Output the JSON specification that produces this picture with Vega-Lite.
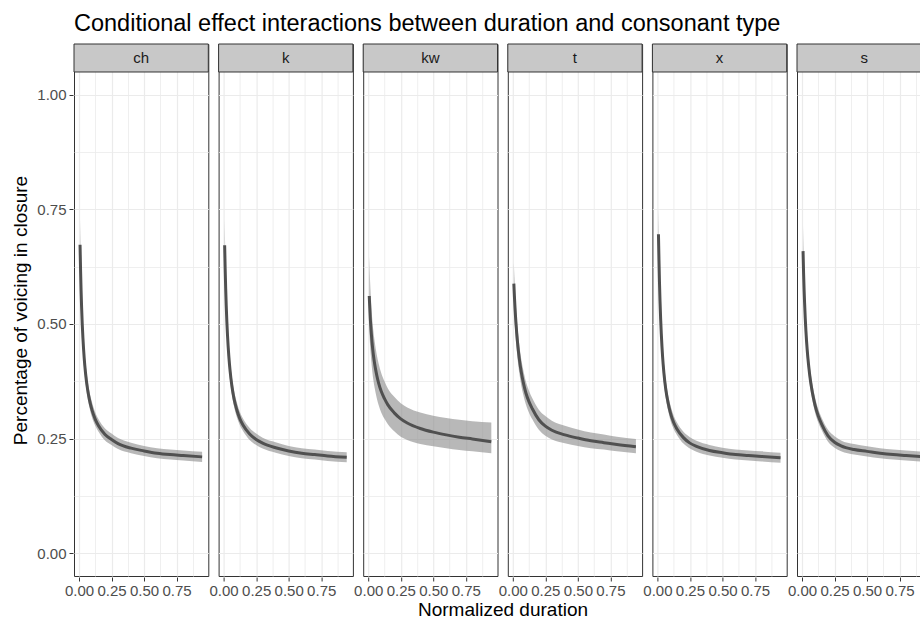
{
  "$schema": "https://vega.github.io/schema/vega-lite/v6.json",
  "padding": {"left": 11, "top": 11, "right": 0, "bottom": 0},
  "title": {"text": "Conditional effect interactions between duration and consonant type", "anchor": "start", "frame": "group", "fontSize": 23.5, "fontWeight": "normal", "color": "#000000", "offset": 8},
  "data": {"values": [
    {"consonant":"ch","duration":0.008,"estimate":0.673,"lower":0.623,"upper":0.728},
    {"consonant":"ch","duration":0.012,"estimate":0.617,"lower":0.573,"upper":0.665},
    {"consonant":"ch","duration":0.016,"estimate":0.572,"lower":0.533,"upper":0.614},
    {"consonant":"ch","duration":0.02,"estimate":0.536,"lower":0.501,"upper":0.573},
    {"consonant":"ch","duration":0.025,"estimate":0.499,"lower":0.468,"upper":0.532},
    {"consonant":"ch","duration":0.03,"estimate":0.470,"lower":0.442,"upper":0.500},
    {"consonant":"ch","duration":0.04,"estimate":0.425,"lower":0.401,"upper":0.451},
    {"consonant":"ch","duration":0.05,"estimate":0.393,"lower":0.372,"upper":0.416},
    {"consonant":"ch","duration":0.065,"estimate":0.359,"lower":0.340,"upper":0.379},
    {"consonant":"ch","duration":0.08,"estimate":0.335,"lower":0.318,"upper":0.353},
    {"consonant":"ch","duration":0.1,"estimate":0.312,"lower":0.296,"upper":0.329},
    {"consonant":"ch","duration":0.125,"estimate":0.292,"lower":0.278,"upper":0.307},
    {"consonant":"ch","duration":0.15,"estimate":0.278,"lower":0.265,"upper":0.292},
    {"consonant":"ch","duration":0.2,"estimate":0.259,"lower":0.246,"upper":0.272},
    {"consonant":"ch","duration":0.25,"estimate":0.248,"lower":0.236,"upper":0.261},
    {"consonant":"ch","duration":0.3,"estimate":0.239,"lower":0.227,"upper":0.251},
    {"consonant":"ch","duration":0.4,"estimate":0.229,"lower":0.218,"upper":0.241},
    {"consonant":"ch","duration":0.5,"estimate":0.223,"lower":0.212,"upper":0.234},
    {"consonant":"ch","duration":0.6,"estimate":0.218,"lower":0.207,"upper":0.229},
    {"consonant":"ch","duration":0.7,"estimate":0.215,"lower":0.204,"upper":0.226},
    {"consonant":"ch","duration":0.8,"estimate":0.213,"lower":0.202,"upper":0.224},
    {"consonant":"ch","duration":0.946,"estimate":0.210,"lower":0.199,"upper":0.221},

    {"consonant":"k","duration":0.008,"estimate":0.672,"lower":0.622,"upper":0.727},
    {"consonant":"k","duration":0.012,"estimate":0.620,"lower":0.576,"upper":0.668},
    {"consonant":"k","duration":0.016,"estimate":0.577,"lower":0.538,"upper":0.619},
    {"consonant":"k","duration":0.02,"estimate":0.541,"lower":0.506,"upper":0.578},
    {"consonant":"k","duration":0.025,"estimate":0.505,"lower":0.474,"upper":0.538},
    {"consonant":"k","duration":0.03,"estimate":0.475,"lower":0.447,"upper":0.505},
    {"consonant":"k","duration":0.04,"estimate":0.430,"lower":0.406,"upper":0.456},
    {"consonant":"k","duration":0.05,"estimate":0.397,"lower":0.376,"upper":0.420},
    {"consonant":"k","duration":0.065,"estimate":0.362,"lower":0.343,"upper":0.382},
    {"consonant":"k","duration":0.08,"estimate":0.337,"lower":0.320,"upper":0.355},
    {"consonant":"k","duration":0.1,"estimate":0.314,"lower":0.298,"upper":0.331},
    {"consonant":"k","duration":0.125,"estimate":0.293,"lower":0.279,"upper":0.308},
    {"consonant":"k","duration":0.15,"estimate":0.279,"lower":0.266,"upper":0.293},
    {"consonant":"k","duration":0.2,"estimate":0.260,"lower":0.247,"upper":0.273},
    {"consonant":"k","duration":0.25,"estimate":0.248,"lower":0.236,"upper":0.261},
    {"consonant":"k","duration":0.3,"estimate":0.240,"lower":0.228,"upper":0.252},
    {"consonant":"k","duration":0.4,"estimate":0.230,"lower":0.219,"upper":0.242},
    {"consonant":"k","duration":0.5,"estimate":0.223,"lower":0.212,"upper":0.234},
    {"consonant":"k","duration":0.6,"estimate":0.218,"lower":0.207,"upper":0.229},
    {"consonant":"k","duration":0.7,"estimate":0.215,"lower":0.204,"upper":0.226},
    {"consonant":"k","duration":0.8,"estimate":0.212,"lower":0.201,"upper":0.223},
    {"consonant":"k","duration":0.946,"estimate":0.209,"lower":0.198,"upper":0.220},

    {"consonant":"kw","duration":0.008,"estimate":0.561,"lower":0.486,"upper":0.648},
    {"consonant":"kw","duration":0.012,"estimate":0.535,"lower":0.465,"upper":0.613},
    {"consonant":"kw","duration":0.016,"estimate":0.512,"lower":0.446,"upper":0.583},
    {"consonant":"kw","duration":0.02,"estimate":0.495,"lower":0.432,"upper":0.561},
    {"consonant":"kw","duration":0.025,"estimate":0.475,"lower":0.415,"upper":0.536},
    {"consonant":"kw","duration":0.03,"estimate":0.458,"lower":0.400,"upper":0.515},
    {"consonant":"kw","duration":0.04,"estimate":0.432,"lower":0.377,"upper":0.484},
    {"consonant":"kw","duration":0.05,"estimate":0.412,"lower":0.360,"upper":0.461},
    {"consonant":"kw","duration":0.065,"estimate":0.389,"lower":0.339,"upper":0.434},
    {"consonant":"kw","duration":0.08,"estimate":0.371,"lower":0.323,"upper":0.414},
    {"consonant":"kw","duration":0.1,"estimate":0.353,"lower":0.307,"upper":0.393},
    {"consonant":"kw","duration":0.125,"estimate":0.337,"lower":0.293,"upper":0.375},
    {"consonant":"kw","duration":0.15,"estimate":0.324,"lower":0.282,"upper":0.360},
    {"consonant":"kw","duration":0.2,"estimate":0.306,"lower":0.266,"upper":0.341},
    {"consonant":"kw","duration":0.25,"estimate":0.293,"lower":0.254,"upper":0.327},
    {"consonant":"kw","duration":0.3,"estimate":0.284,"lower":0.247,"upper":0.318},
    {"consonant":"kw","duration":0.4,"estimate":0.272,"lower":0.238,"upper":0.307},
    {"consonant":"kw","duration":0.5,"estimate":0.264,"lower":0.233,"upper":0.300},
    {"consonant":"kw","duration":0.6,"estimate":0.258,"lower":0.229,"upper":0.295},
    {"consonant":"kw","duration":0.7,"estimate":0.253,"lower":0.225,"upper":0.291},
    {"consonant":"kw","duration":0.8,"estimate":0.249,"lower":0.222,"upper":0.288},
    {"consonant":"kw","duration":0.946,"estimate":0.243,"lower":0.218,"upper":0.285},

    {"consonant":"t","duration":0.008,"estimate":0.588,"lower":0.533,"upper":0.633},
    {"consonant":"t","duration":0.012,"estimate":0.562,"lower":0.512,"upper":0.604},
    {"consonant":"t","duration":0.016,"estimate":0.540,"lower":0.494,"upper":0.580},
    {"consonant":"t","duration":0.02,"estimate":0.520,"lower":0.477,"upper":0.558},
    {"consonant":"t","duration":0.025,"estimate":0.499,"lower":0.459,"upper":0.535},
    {"consonant":"t","duration":0.03,"estimate":0.480,"lower":0.443,"upper":0.514},
    {"consonant":"t","duration":0.04,"estimate":0.449,"lower":0.415,"upper":0.481},
    {"consonant":"t","duration":0.05,"estimate":0.424,"lower":0.393,"upper":0.454},
    {"consonant":"t","duration":0.065,"estimate":0.395,"lower":0.366,"upper":0.423},
    {"consonant":"t","duration":0.08,"estimate":0.373,"lower":0.346,"upper":0.400},
    {"consonant":"t","duration":0.1,"estimate":0.350,"lower":0.325,"upper":0.375},
    {"consonant":"t","duration":0.125,"estimate":0.330,"lower":0.306,"upper":0.354},
    {"consonant":"t","duration":0.15,"estimate":0.315,"lower":0.292,"upper":0.338},
    {"consonant":"t","duration":0.2,"estimate":0.291,"lower":0.269,"upper":0.313},
    {"consonant":"t","duration":0.25,"estimate":0.277,"lower":0.256,"upper":0.299},
    {"consonant":"t","duration":0.3,"estimate":0.268,"lower":0.248,"upper":0.289},
    {"consonant":"t","duration":0.4,"estimate":0.258,"lower":0.240,"upper":0.278},
    {"consonant":"t","duration":0.5,"estimate":0.251,"lower":0.234,"upper":0.270},
    {"consonant":"t","duration":0.6,"estimate":0.245,"lower":0.229,"upper":0.263},
    {"consonant":"t","duration":0.7,"estimate":0.241,"lower":0.226,"upper":0.259},
    {"consonant":"t","duration":0.8,"estimate":0.237,"lower":0.222,"upper":0.254},
    {"consonant":"t","duration":0.946,"estimate":0.232,"lower":0.218,"upper":0.249},

    {"consonant":"x","duration":0.008,"estimate":0.696,"lower":0.646,"upper":0.751},
    {"consonant":"x","duration":0.012,"estimate":0.640,"lower":0.596,"upper":0.688},
    {"consonant":"x","duration":0.016,"estimate":0.590,"lower":0.551,"upper":0.632},
    {"consonant":"x","duration":0.02,"estimate":0.550,"lower":0.515,"upper":0.587},
    {"consonant":"x","duration":0.025,"estimate":0.510,"lower":0.479,"upper":0.543},
    {"consonant":"x","duration":0.03,"estimate":0.478,"lower":0.450,"upper":0.508},
    {"consonant":"x","duration":0.04,"estimate":0.428,"lower":0.404,"upper":0.454},
    {"consonant":"x","duration":0.05,"estimate":0.393,"lower":0.372,"upper":0.416},
    {"consonant":"x","duration":0.065,"estimate":0.356,"lower":0.337,"upper":0.376},
    {"consonant":"x","duration":0.08,"estimate":0.331,"lower":0.314,"upper":0.349},
    {"consonant":"x","duration":0.1,"estimate":0.306,"lower":0.290,"upper":0.323},
    {"consonant":"x","duration":0.125,"estimate":0.285,"lower":0.271,"upper":0.300},
    {"consonant":"x","duration":0.15,"estimate":0.271,"lower":0.258,"upper":0.285},
    {"consonant":"x","duration":0.2,"estimate":0.252,"lower":0.239,"upper":0.265},
    {"consonant":"x","duration":0.25,"estimate":0.240,"lower":0.228,"upper":0.253},
    {"consonant":"x","duration":0.3,"estimate":0.233,"lower":0.221,"upper":0.245},
    {"consonant":"x","duration":0.4,"estimate":0.224,"lower":0.213,"upper":0.236},
    {"consonant":"x","duration":0.5,"estimate":0.219,"lower":0.208,"upper":0.230},
    {"consonant":"x","duration":0.6,"estimate":0.215,"lower":0.204,"upper":0.226},
    {"consonant":"x","duration":0.7,"estimate":0.213,"lower":0.202,"upper":0.224},
    {"consonant":"x","duration":0.8,"estimate":0.211,"lower":0.200,"upper":0.222},
    {"consonant":"x","duration":0.946,"estimate":0.208,"lower":0.197,"upper":0.219},

    {"consonant":"s","duration":0.008,"estimate":0.659,"lower":0.609,"upper":0.714},
    {"consonant":"s","duration":0.012,"estimate":0.612,"lower":0.568,"upper":0.660},
    {"consonant":"s","duration":0.016,"estimate":0.575,"lower":0.536,"upper":0.617},
    {"consonant":"s","duration":0.02,"estimate":0.545,"lower":0.510,"upper":0.582},
    {"consonant":"s","duration":0.025,"estimate":0.512,"lower":0.481,"upper":0.545},
    {"consonant":"s","duration":0.03,"estimate":0.485,"lower":0.457,"upper":0.515},
    {"consonant":"s","duration":0.04,"estimate":0.443,"lower":0.419,"upper":0.469},
    {"consonant":"s","duration":0.05,"estimate":0.412,"lower":0.391,"upper":0.435},
    {"consonant":"s","duration":0.065,"estimate":0.376,"lower":0.357,"upper":0.396},
    {"consonant":"s","duration":0.08,"estimate":0.350,"lower":0.333,"upper":0.368},
    {"consonant":"s","duration":0.1,"estimate":0.323,"lower":0.307,"upper":0.340},
    {"consonant":"s","duration":0.125,"estimate":0.299,"lower":0.285,"upper":0.314},
    {"consonant":"s","duration":0.15,"estimate":0.282,"lower":0.269,"upper":0.296},
    {"consonant":"s","duration":0.2,"estimate":0.256,"lower":0.243,"upper":0.269},
    {"consonant":"s","duration":0.25,"estimate":0.242,"lower":0.230,"upper":0.255},
    {"consonant":"s","duration":0.3,"estimate":0.234,"lower":0.222,"upper":0.246},
    {"consonant":"s","duration":0.4,"estimate":0.226,"lower":0.215,"upper":0.238},
    {"consonant":"s","duration":0.5,"estimate":0.222,"lower":0.211,"upper":0.233},
    {"consonant":"s","duration":0.6,"estimate":0.218,"lower":0.207,"upper":0.229},
    {"consonant":"s","duration":0.7,"estimate":0.215,"lower":0.204,"upper":0.226},
    {"consonant":"s","duration":0.8,"estimate":0.213,"lower":0.202,"upper":0.224},
    {"consonant":"s","duration":0.946,"estimate":0.210,"lower":0.199,"upper":0.221}
  ]},
  "facet": {"column": {"field": "consonant", "type": "nominal", "sort": ["ch", "k", "kw", "t", "x", "s"],
    "header": {"labels": false, "title": "Normalized duration", "titleOrient": "bottom", "titleFontSize": 19, "titleFontWeight": "normal", "titleColor": "#000000", "titlePadding": -7}}},
  "spacing": 7.6,
  "spec": {
    "width": 134.3,
    "height": 532,
    "encoding": {
      "x": {"field": "duration", "type": "quantitative",
        "scale": {"domain": [-0.0385, 0.9935], "nice": false, "zero": false},
        "axis": {"title": null, "values": [0, 0.125, 0.25, 0.375, 0.5, 0.625, 0.75, 0.875],
          "labelExpr": "datum.value % 0.25 ? '' : format(datum.value, '.2f')",
          "tickOpacity": {"condition": {"test": "datum.value % 0.25 !== 0", "value": 0}, "value": 1},
          "gridWidth": {"condition": {"test": "datum.value % 0.25 !== 0", "value": 0.8}, "value": 1.2},
          "gridColor": "#EBEBEB", "domain": false, "tickColor": "#333333", "tickSize": 4, "labelPadding": 2,
          "labelFontSize": 15, "labelColor": "#4D4D4D", "labelOverlap": false, "labelFlush": false}},
      "y": {"type": "quantitative",
        "scale": {"domain": [-0.05, 1.1111], "nice": false, "zero": false},
        "axis": {"title": "Percentage of voicing in closure", "values": [0, 0.125, 0.25, 0.375, 0.5, 0.625, 0.75, 0.875, 1],
          "labelExpr": "datum.value % 0.25 ? '' : format(datum.value, '.2f')",
          "tickOpacity": {"condition": {"test": "datum.value % 0.25 !== 0", "value": 0}, "value": 1},
          "gridWidth": {"condition": {"test": "datum.value % 0.25 !== 0", "value": 0.8}, "value": 1.2},
          "gridColor": "#EBEBEB", "domain": false, "tickColor": "#333333", "tickSize": 4, "labelPadding": 3,
          "labelFontSize": 15, "labelColor": "#4D4D4D", "labelFlush": false,
          "titleFontSize": 19, "titleFontWeight": "normal", "titleColor": "#000000", "titlePadding": 6}}
    },
    "layer": [
      {"mark": {"type": "area", "interpolate": "monotone", "color": "#888888", "opacity": 0.6},
       "encoding": {"y": {"field": "lower", "type": "quantitative"}, "y2": {"field": "upper"}}},
      {"mark": {"type": "line", "interpolate": "monotone", "color": "#505050", "strokeWidth": 3, "strokeCap": "butt"},
       "encoding": {"y": {"field": "estimate", "type": "quantitative"}}},
      {"transform": [{"filter": "datum.duration == 0.008"}],
       "mark": {"type": "rect", "fill": "#C8C8C8", "stroke": "#333333", "strokeWidth": 1},
       "encoding": {"x": {"datum": -0.0385}, "x2": {"datum": 0.9935}, "y": {"datum": 1.05}, "y2": {"datum": 1.1111}}},
      {"transform": [{"filter": "datum.duration == 0.008"}],
       "mark": {"type": "text", "fontSize": 15, "color": "#1A1A1A", "baseline": "middle", "align": "center"},
       "encoding": {"x": {"datum": 0.4775}, "y": {"datum": 1.0806}, "text": {"field": "consonant"}}}
    ]
  },
  "config": {
    "font": "Liberation Sans",
    "view": {"stroke": "#333333", "strokeWidth": 1},
    "background": "#FFFFFF"
  }
}
